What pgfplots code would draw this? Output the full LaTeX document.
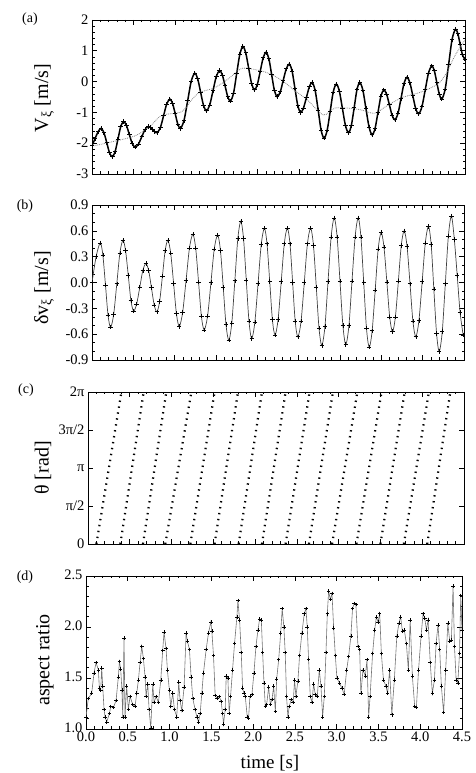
\documentclass[border=0pt]{standalone}
\usepackage{pgfplots}
\pgfplotsset{compat=1.18}
\usepackage{pgfplotstable}
\usepackage{fontspec}
\setmainfont{Liberation Serif}

\newcommand{\tickfont}{\fontsize{14.5}{16}\selectfont}
\newcommand{\labfont}{\fontsize{20}{22}\selectfont}
\newcommand{\panfont}{\fontsize{14}{16}\selectfont}

\pgfplotstableread{
t v
0.000 -2.08
0.037 -1.85
0.073 -1.63
0.110 -1.52
0.144 -1.66
0.178 -1.98
0.211 -2.31
0.245 -2.44
0.279 -2.27
0.313 -1.87
0.346 -1.47
0.380 -1.30
0.415 -1.42
0.450 -1.715
0.485 -2.01
0.520 -2.13
0.560 -2.03
0.600 -1.795
0.640 -1.56
0.680 -1.46
0.706 -1.49
0.733 -1.56
0.759 -1.63
0.785 -1.66
0.824 -1.50
0.863 -1.115
0.901 -0.73
0.940 -0.57
0.972 -0.71
1.004 -1.045
1.035 -1.38
1.067 -1.52
1.110 -1.26
1.154 -0.625
1.197 0.01
1.240 0.27
1.275 0.09
1.310 -0.34
1.345 -0.77
1.380 -0.95
1.420 -0.76
1.460 -0.295
1.500 0.17
1.540 0.36
1.573 0.21
1.605 -0.135
1.638 -0.49
1.670 -0.63
1.708 -0.37
1.745 0.255
1.783 0.88
1.820 1.14
1.855 0.93
1.890 0.435
1.925 -0.06
1.960 -0.27
1.995 -0.09
2.030 0.34
2.065 0.77
2.100 0.95
2.134 0.74
2.167 0.23
2.200 -0.28
2.234 -0.49
2.271 -0.335
2.307 0.04
2.344 0.415
2.380 0.57
2.414 0.34
2.448 -0.215
2.482 -0.77
2.516 -1.00
2.551 -0.86
2.587 -0.515
2.622 -0.17
2.657 -0.03
2.693 -0.30
2.729 -0.935
2.764 -1.575
2.800 -1.84
2.837 -1.58
2.874 -0.96
2.910 -0.34
2.947 -0.08
2.984 -0.31
3.021 -0.87
3.058 -1.43
3.095 -1.66
3.129 -1.42
3.163 -0.845
3.196 -0.27
3.230 -0.03
3.268 -0.28
3.305 -0.88
3.343 -1.48
3.380 -1.73
3.415 -1.52
3.450 -1.00
3.485 -0.48
3.520 -0.27
3.554 -0.41
3.588 -0.755
3.621 -1.10
3.655 -1.24
3.691 -1.04
3.728 -0.55
3.764 -0.06
3.800 0.14
3.835 -0.035
3.870 -0.455
3.905 -0.875
3.940 -1.05
3.980 -0.82
4.020 -0.27
4.060 0.28
4.100 0.51
4.130 0.35
4.160 -0.03
4.190 -0.41
4.220 -0.57
4.261 -0.24
4.303 0.565
4.344 1.37
4.385 1.70
4.413 1.56
4.441 1.215
4.469 0.87
4.497 0.73
}\dataA

\pgfplotstableread{
t v
0.00 -2.10
0.25 -1.95
0.52 -1.76
0.70 -1.45
0.84 -1.10
1.08 -0.98
1.20 -0.60
1.30 -0.35
1.48 -0.20
1.65 0.10
1.81 0.43
2.00 0.37
2.15 0.25
2.30 0.02
2.45 -0.30
2.60 -0.60
2.79 -1.08
2.93 -0.86
3.13 -0.87
3.25 -0.92
3.41 -1.03
3.55 -0.80
3.74 -0.52
3.98 -0.33
4.18 -0.06
4.28 0.30
4.38 0.85
4.50 1.35
}\meanA

\pgfplotstableread{
t v
0.000 0.00
0.050 0.30
0.100 0.46
0.131 0.32
0.163 -0.03
0.194 -0.38
0.225 -0.52
0.262 -0.37
0.300 -0.015
0.337 0.34
0.374 0.49
0.406 0.37
0.439 0.08
0.471 -0.21
0.503 -0.33
0.540 -0.25
0.578 -0.055
0.615 0.14
0.652 0.22
0.685 0.14
0.719 -0.06
0.752 -0.26
0.785 -0.34
0.818 -0.22
0.852 0.075
0.885 0.37
0.918 0.49
0.952 0.34
0.987 -0.01
1.021 -0.36
1.055 -0.51
1.096 -0.35
1.138 0.025
1.179 0.40
1.220 0.56
1.254 0.40
1.289 0.005
1.323 -0.39
1.357 -0.55
1.398 -0.39
1.439 0.00
1.479 0.39
1.520 0.55
1.554 0.37
1.588 -0.06
1.621 -0.49
1.655 -0.67
1.691 -0.47
1.728 0.02
1.764 0.51
1.800 0.71
1.833 0.51
1.866 0.03
1.899 -0.45
1.932 -0.65
1.970 -0.46
2.009 -0.01
2.047 0.44
2.085 0.63
2.117 0.45
2.150 0.01
2.182 -0.43
2.214 -0.61
2.251 -0.43
2.289 0.01
2.326 0.45
2.363 0.63
2.395 0.45
2.427 0.00
2.458 -0.45
2.490 -0.63
2.529 -0.45
2.568 0.00
2.606 0.45
2.645 0.63
2.679 0.43
2.713 -0.05
2.746 -0.53
2.780 -0.73
2.818 -0.51
2.855 0.01
2.893 0.53
2.930 0.75
2.965 0.53
3.000 0.015
3.035 -0.50
3.070 -0.72
3.108 -0.50
3.145 0.015
3.183 0.53
3.220 0.75
3.253 0.53
3.287 0.00
3.320 -0.53
3.353 -0.75
3.389 -0.56
3.426 -0.085
3.462 0.39
3.498 0.58
3.532 0.41
3.567 0.005
3.601 -0.40
3.635 -0.57
3.670 -0.40
3.706 0.015
3.741 0.43
3.776 0.60
3.811 0.42
3.847 -0.015
3.882 -0.45
3.917 -0.63
3.955 -0.44
3.994 0.01
4.032 0.46
4.070 0.65
4.103 0.44
4.135 -0.075
4.168 -0.59
4.200 -0.80
4.237 -0.57
4.274 -0.015
4.311 0.54
4.348 0.77
4.383 0.50
4.418 0.08
4.453 -0.35
4.490 -0.61
}\dataB

\pgfplotstableread{
t v
0.000 1.12
0.028 1.30
0.068 1.35
0.096 1.55
0.120 1.65
0.148 1.58
0.160 1.40
0.176 1.38
0.188 1.60
0.200 1.42
0.216 1.19
0.228 1.12
0.248 1.07
0.280 1.15
0.296 1.22
0.328 1.21
0.360 1.28
0.387 1.51
0.400 1.66
0.415 1.59
0.430 1.38
0.440 1.12
0.455 1.89
0.467 1.12
0.487 1.42
0.507 1.19
0.527 1.32
0.559 1.24
0.587 1.22
0.607 1.35
0.627 1.48
0.647 1.65
0.667 1.81
0.687 1.69
0.707 1.51
0.719 1.32
0.739 1.44
0.755 1.19
0.775 1.01
0.799 1.44
0.815 1.26
0.839 1.32
0.867 1.26
0.895 1.48
0.918 1.77
0.934 1.95
0.958 1.79
0.974 1.58
0.998 1.38
1.014 1.22
1.038 1.35
1.058 1.19
1.086 1.12
1.110 1.46
1.126 1.28
1.146 1.18
1.174 1.41
1.198 1.94
1.214 1.86
1.238 1.78
1.258 1.51
1.278 1.30
1.306 1.19
1.326 1.12
1.346 1.07
1.366 1.15
1.386 1.35
1.406 1.55
1.438 1.78
1.466 1.94
1.494 2.05
1.506 1.96
1.526 1.72
1.546 1.33
1.566 1.30
1.594 1.32
1.618 1.27
1.634 1.15
1.646 1.05
1.666 1.19
1.678 1.52
1.698 1.50
1.714 1.15
1.730 1.32
1.754 1.58
1.778 1.84
1.806 2.10
1.818 2.26
1.838 2.07
1.858 1.75
1.874 1.40
1.890 1.35
1.906 1.32
1.930 1.12
1.946 1.11
1.962 1.32
1.986 1.34
2.010 1.55
2.034 1.81
2.058 1.97
2.078 2.08
2.098 2.07
2.114 1.75
2.130 1.45
2.146 1.22
2.162 1.24
2.186 1.41
2.206 1.24
2.226 1.29
2.246 1.42
2.266 1.17
2.282 1.49
2.306 1.68
2.330 1.94
2.348 2.18
2.368 2.00
2.384 1.75
2.400 1.32
2.416 1.12
2.432 1.22
2.456 1.29
2.480 1.26
2.496 1.48
2.512 1.32
2.536 1.47
2.556 1.72
2.584 1.94
2.612 2.13
2.632 2.18
2.648 2.00
2.664 1.68
2.684 1.32
2.704 1.26
2.724 1.44
2.744 1.34
2.768 1.32
2.792 1.58
2.812 1.42
2.832 1.12
2.852 1.32
2.872 1.75
2.888 2.13
2.904 2.35
2.924 2.27
2.944 2.33
2.964 1.99
2.984 1.72
3.003 1.50
3.035 1.45
3.063 1.40
3.090 1.34
3.120 1.58
3.143 1.71
3.170 1.91
3.190 2.18
3.210 2.23
3.230 2.22
3.255 1.81
3.275 1.78
3.290 1.35
3.315 1.58
3.343 1.52
3.363 1.68
3.383 1.12
3.400 1.32
3.430 1.74
3.455 1.97
3.475 2.10
3.495 2.05
3.515 2.13
3.535 1.74
3.560 1.48
3.590 1.42
3.610 1.35
3.634 1.58
3.660 1.14
3.690 1.48
3.720 1.91
3.746 2.04
3.766 2.10
3.786 1.96
3.810 1.97
3.834 1.84
3.858 1.58
3.880 2.07
3.906 1.52
3.934 1.22
3.954 1.21
3.980 1.58
4.010 1.91
4.034 2.13
4.054 2.09
4.074 1.97
4.094 2.07
4.120 1.65
4.145 1.35
4.170 1.48
4.190 1.84
4.213 2.02
4.233 1.78
4.253 1.42
4.280 1.16
4.305 1.58
4.330 2.04
4.353 1.86
4.373 1.87
4.393 2.40
4.410 1.81
4.430 1.48
4.450 1.45
4.470 1.74
4.485 2.31
4.500 1.97
}\dataD

\pgfplotsset{
  panel/.style={
    scale only axis, anchor=south west,
    xmin=0, xmax=4.5,
    xtick={0,0.5,1,1.5,2,2.5,3,3.5,4,4.5},
    minor x tick num=4,
    tick align=inside,
    major tick length=5pt, minor tick length=2.5pt,
    axis line style={line width=0.9pt},
    tick style={black, line width=0.6pt},
    ticklabel style={font=\tickfont},
  },
  ramp/.style={black, line width=2.2pt, dash pattern=on 1.4pt off 4.6pt},
}

\begin{document}
\begin{tikzpicture}
\path[use as bounding box] (0pt,0pt) rectangle (475pt,773pt);

% (a)
\begin{axis}[panel, at={(92pt,599pt)}, width=373pt, height=154pt,
  ymin=-3, ymax=2, ytick={-3,-2,-1,0,1,2}, yticklabels={-3,-2,-1,0,1,2},
  minor y tick num=4, xticklabels={}]
  \addplot[black, line width=1.5pt, smooth, mark=+, mark size=2.2pt, mark options={line width=0.9pt}] table {\dataA};
  \addplot[gray, densely dotted, line width=0.8pt, smooth] table {\meanA};
\end{axis}

% (b)
\begin{axis}[panel, at={(92pt,413pt)}, width=372pt, height=155pt,
  ymin=-0.9, ymax=0.9, ytick={-0.9,-0.6,-0.3,0,0.3,0.6,0.9},
  yticklabels={-0.9,-0.6,-0.3,0.0,0.3,0.6,0.9},
  minor y tick num=2, xticklabels={}]
  \addplot[black!75, line width=0.7pt, smooth, mark=+, mark size=2.2pt, mark options={black, line width=0.6pt}] table {\dataB};
\end{axis}

% (c)
\begin{axis}[panel, at={(88pt,229pt)}, width=376pt, height=152pt,
  ymin=0, ymax=6.28319, ytick={0,1.5708,3.14159,4.71239,6.28319},
  yticklabels={0,π/2,π,3π/2,2π}, xticklabels={}]
  \addplot[ramp] coordinates {(0.100,0) (0.400,6.28319)};
  \addplot[ramp] coordinates {(0.387,0) (0.666,6.28319)};
  \addplot[ramp] coordinates {(0.658,0) (0.937,6.28319)};
  \addplot[ramp] coordinates {(0.925,0) (1.237,6.28319)};
  \addplot[ramp] coordinates {(1.225,0) (1.515,6.28319)};
  \addplot[ramp] coordinates {(1.515,0) (1.795,6.28319)};
  \addplot[ramp] coordinates {(1.803,0) (2.082,6.28319)};
  \addplot[ramp] coordinates {(2.082,0) (2.365,6.28319)};
  \addplot[ramp] coordinates {(2.365,0) (2.652,6.28319)};
  \addplot[ramp] coordinates {(2.644,0) (2.931,6.28319)};
  \addplot[ramp] coordinates {(2.921,0) (3.224,6.28319)};
  \addplot[ramp] coordinates {(3.213,0) (3.513,6.28319)};
  \addplot[ramp] coordinates {(3.500,0) (3.790,6.28319)};
  \addplot[ramp] coordinates {(3.780,0) (4.080,6.28319)};
  \addplot[ramp] coordinates {(4.060,0) (4.336,6.28319)};
\end{axis}

% (d)
\begin{axis}[panel, at={(86pt,44pt)}, width=376pt, height=153pt,
  ymin=1, ymax=2.5, ytick={1,1.5,2,2.5}, yticklabels={1.0,1.5,2.0,2.5},
  minor y tick num=4,
  xticklabels={0.0,0.5,1.0,1.5,2.0,2.5,3.0,3.5,4.0,4.5},
  xticklabel style={inner sep=0pt, yshift=-3pt},
  yticklabel style={yshift=1.5pt}]
  \addplot[black!55, line width=0.6pt, mark=+, mark size=1.8pt, mark options={black, line width=0.5pt}] table {\dataD};
\end{axis}

\node[font=\panfont] at (30pt,754pt) {(a)};
\node[font=\panfont] at (25pt,567pt) {(b)};
\node[font=\panfont] at (26pt,383pt) {(c)};
\node[font=\panfont] at (25pt,196pt) {(d)};

\node[font=\labfont, rotate=90] at (44pt,675pt) {V\textsubscript{ξ} [m/s]};
\node[font=\labfont, rotate=90] at (44pt,485pt) {δv\textsubscript{ξ} [m/s]};
\node[font=\labfont, rotate=90] at (43pt,305pt) {θ [rad]};
\node[font=\labfont, rotate=90] at (45pt,113pt) {aspect ratio};
\node[font=\fontsize{19}{21}\selectfont] at (270pt,10pt) {time [s]};
\end{tikzpicture}
\end{document}
